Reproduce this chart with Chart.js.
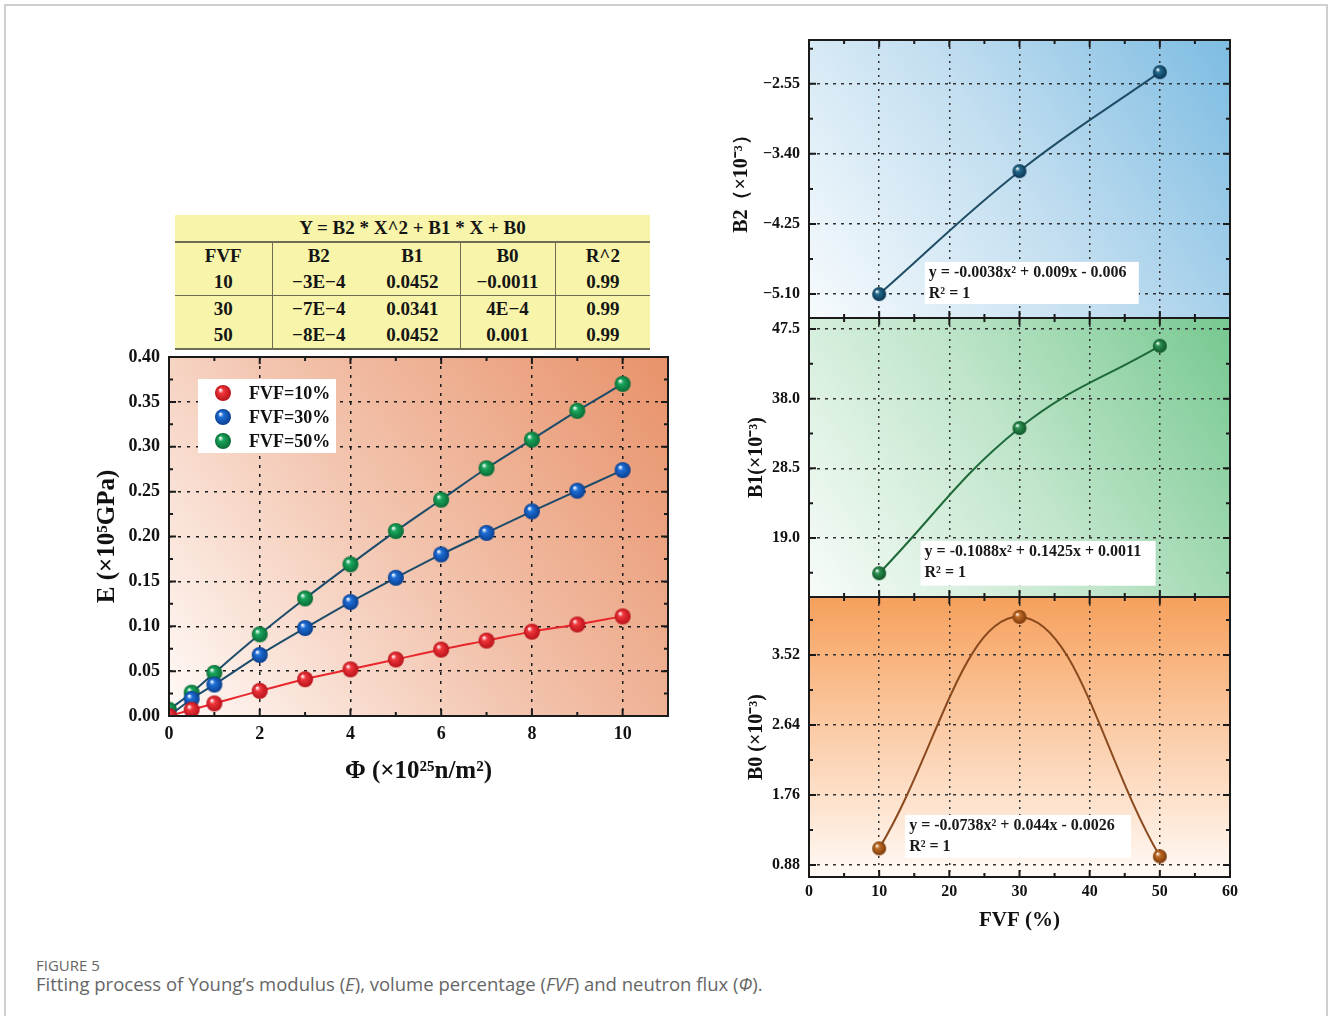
<!DOCTYPE html>
<html>
<head>
<meta charset="utf-8">
<script src="https://cdn.jsdelivr.net/npm/chart.js@4.4.1/dist/chart.umd.min.js"></script>
<style>
  body { margin: 0; width: 1328px; height: 1016px; background: #fff; overflow: hidden; position: relative; }
  .frame { position: absolute; left: 4px; top: 4px; width: 1320px; height: 1040px; border: 2px solid #cfcfcf; }
  .box { position: absolute; }
  #coef { position: absolute; left: 175px; top: 215px; width: 475px; border-collapse: collapse; table-layout: fixed;
          background: #f8f5aa; font: bold 19px "Liberation Serif", serif; color: #151515; }
  #coef td, #coef th { text-align: center; padding: 0; height: 26px; font-weight: bold; }
  #coef th { height: 26px; border-bottom: 2px solid #6e6c55; }
  #coef td.vl { border-right: 1.5px solid #6e6c55; }
  #coef tr.sep td { border-bottom: 1.5px solid #6e6c55; }
  #coef tr.last td { border-bottom: 2px solid #6e6c55; height: 26px; }
  .fig { position: absolute; left: 36px; top: 955px; font: 15px "Open Sans", sans-serif; color: #666; }
  .cap { position: absolute; left: 36px; top: 971px; font: 18.5px "Open Sans", sans-serif; color: #666; }
</style>
</head>
<body>
<div class="frame"></div>
<table id="coef"></table>
<div class="box" style="left:80px;top:340px;width:610px;height:460px"><canvas id="eChart"></canvas></div>
<div class="box" style="left:725px;top:30px;width:525px;height:288px"><canvas id="b2Chart"></canvas></div>
<div class="box" style="left:725px;top:318px;width:525px;height:279px"><canvas id="b1Chart"></canvas></div>
<div class="box" style="left:725px;top:597px;width:525px;height:338px"><canvas id="b0Chart"></canvas></div>
<div class="fig">FIGURE 5</div>
<div class="cap">Fitting process of Young’s modulus (<i>E</i>), volume percentage (<i>FVF</i>) and neutron flux (<i>Φ</i>).</div>

<script>
// left chart: Young's modulus vs neutron flux
const phi = [0, 0.5, 1, 2, 3, 4, 5, 6, 7, 8, 9, 10];
const e10 = [0, 0.007, 0.014, 0.028, 0.041, 0.052, 0.063, 0.074, 0.084, 0.094, 0.102, 0.111];
const e30 = [0, 0.019, 0.035, 0.068, 0.098, 0.127, 0.154, 0.180, 0.204, 0.228, 0.251, 0.274];
const e50 = [0.007, 0.026, 0.048, 0.091, 0.131, 0.169, 0.206, 0.241, 0.276, 0.308, 0.340, 0.370];
const seriesLabels = ['FVF=10%', 'FVF=30%', 'FVF=50%'];
const phiTicks = [0, 2, 4, 6, 8, 10];
const eTicks = [0, 0.05, 0.10, 0.15, 0.20, 0.25, 0.30, 0.35, 0.40];

// right charts: fit coefficients vs FVF
const fvf = [10, 30, 50];
const b2 = [-5.10, -3.61, -2.41];
const b1 = [14.2, 34.0, 45.2];
const b0 = [1.09, 4.00, 0.99];
const fvfTicks = [0, 10, 20, 30, 40, 50, 60];
const b2Ticks = [-5.10, -4.25, -3.40, -2.55];
const b1Ticks = [19.0, 28.5, 38.0, 47.5];
const b0Ticks = [0.88, 1.76, 2.64, 3.52];
const b2Fit = ['y = -0.0038x² + 0.009x - 0.006', 'R² = 1'];
const b1Fit = ['y = -0.1088x² + 0.1425x + 0.0011', 'R² = 1'];
const b0Fit = ['y = -0.0738x² + 0.044x - 0.0026', 'R² = 1'];

// coefficient table
const tableTitle = 'Y = B2 * X^2 + B1 * X + B0';
const tableHead = ['FVF', 'B2', 'B1', 'B0', 'R^2'];
const tableFvf = ['10', '30', '50'];
const tableB2 = ['−3E−4', '−7E−4', '−8E−4'];
const tableB1 = ['0.0452', '0.0341', '0.0452'];
const tableB0 = ['−0.0011', '4E−4', '0.001'];
const tableR2 = ['0.99', '0.99', '0.99'];

const SERIF = '"Liberation Serif", "Times New Roman", serif';
Chart.defaults.font.family = SERIF;
Chart.defaults.font.weight = 'bold';
Chart.defaults.color = '#111';

// build table
const tbl = document.getElementById('coef');
const widths = [97, 93, 95, 95, 95];
let html = '<colgroup>' + widths.map(w => `<col style="width:${w}px">`).join('') + '</colgroup>';
html += `<tr><th colspan="5">${tableTitle}</th></tr>`;
const rowCells = r => r.map((c, i) => `<td class="${[0, 2, 3].includes(i) ? 'vl' : ''}">${c}</td>`).join('');
html += `<tr>${rowCells(tableHead)}</tr>`;
tableFvf.forEach((f, i) => {
  const cls = i === 0 ? 'sep' : (i === tableFvf.length - 1 ? 'last' : '');
  html += `<tr class="${cls}">${rowCells([f, tableB2[i], tableB1[i], tableB0[i], tableR2[i]])}</tr>`;
});
tbl.innerHTML = html;

// glossy ball marker
function sphere(color, dark, r) {
  const c = document.createElement('canvas');
  c.width = c.height = r * 2 + 2;
  const g = c.getContext('2d');
  const m = r + 1;
  const grad = g.createRadialGradient(m - r * 0.35, m - r * 0.4, r * 0.05, m, m, r);
  grad.addColorStop(0, '#ffffff');
  grad.addColorStop(0.3, color);
  grad.addColorStop(1, dark);
  g.fillStyle = grad;
  g.beginPath();
  g.arc(m, m, r, 0, Math.PI * 2);
  g.fill();
  return c;
}

// no extra room for edge labels, so panels line up exactly
const noPadY = s => { s.paddingTop = 0; s.paddingBottom = 0; };
const noPadX = s => { s.paddingLeft = 0; s.paddingRight = 0; };

const frame = {
  id: 'frame',
  beforeDraw(chart, args, o) {
    const { ctx, chartArea: a } = chart;
    const g = o.vertical
      ? ctx.createLinearGradient(0, a.top, 0, a.bottom)
      : ctx.createLinearGradient(a.left, a.bottom, a.right, a.top);
    o.stops.forEach(s => g.addColorStop(s[0], s[1]));
    ctx.save();
    ctx.fillStyle = g;
    ctx.fillRect(a.left, a.top, a.width, a.height);
    ctx.restore();
  },
  beforeDatasetsDraw(chart, args, o) {
    const { ctx, chartArea: a, scales: { x, y } } = chart;
    ctx.save();
    if (o.note) {
      const n = o.note;
      const x0 = x.getPixelForValue(n.x0), x1 = x.getPixelForValue(n.x1);
      const y0 = y.getPixelForValue(n.y0), y1 = y.getPixelForValue(n.y1);
      ctx.fillStyle = '#fff';
      ctx.fillRect(x0, y0, x1 - x0, y1 - y0);
      ctx.fillStyle = '#1a1a1a';
      ctx.font = 'bold 16px ' + SERIF;
      ctx.textBaseline = 'middle';
      n.lines.forEach((t, i) => ctx.fillText(t, x0 + 4, y0 + 11 + i * 21));
    }
    if (o.legend) {
      const bx = a.left + 29, by = a.top + 22;
      ctx.fillStyle = '#fff';
      ctx.fillRect(bx, by, 138, 74);
      ctx.font = 'bold 18px ' + SERIF;
      ctx.textBaseline = 'middle';
      chart.data.datasets.forEach((ds, i) => {
        const img = ds.pointStyle;
        const cy = by + 14 + i * 24;
        ctx.drawImage(img, bx + 25 - img.width / 2, cy - img.height / 2);
        ctx.fillStyle = '#111';
        ctx.fillText(ds.label, bx + 51, cy + 1);
      });
    }
    ctx.restore();
  },
  afterDraw(chart, args, o) {
    const { ctx, chartArea: a, scales: { x, y } } = chart;
    ctx.save();
    ctx.strokeStyle = '#1a1a1a';
    ctx.lineWidth = 2;
    ctx.beginPath();
    for (let i = 0, v = o.xStart; v <= x.max + 1e-9; i++, v += o.xStep) {
      const px = x.getPixelForValue(v);
      const len = i % 2 === o.xMajorAt ? 7 : 4;
      ctx.moveTo(px, a.top); ctx.lineTo(px, a.top + len);
      ctx.moveTo(px, a.bottom); ctx.lineTo(px, a.bottom - len);
    }
    for (let i = 0, v = o.yStart; v <= y.max + 1e-9; i++, v += o.yStep) {
      if (v < y.min) continue;
      const py = y.getPixelForValue(v);
      const len = i % 2 === o.yMajorAt ? 7 : 4;
      ctx.moveTo(a.left, py); ctx.lineTo(a.left + len, py);
      ctx.moveTo(a.right, py); ctx.lineTo(a.right - len, py);
    }
    ctx.stroke();
    ctx.strokeRect(a.left, a.top, a.width, a.height);
    ctx.restore();
  }
};

// ---- left chart ----
const eSeries = [
  { label: seriesLabels[0], data: e10, ball: sphere('#f0363c', '#b8121a', 8), line: '#e8262c' },
  { label: seriesLabels[1], data: e30, ball: sphere('#1e6fd8', '#0b3f8e', 8), line: '#1d4c6a' },
  { label: seriesLabels[2], data: e50, ball: sphere('#1aa65c', '#0a6b36', 8), line: '#1d4c6a' }
];

new Chart(document.getElementById('eChart'), {
  type: 'scatter',
  data: {
    datasets: eSeries.map(s => ({
      label: s.label,
      data: phi.map((p, i) => ({ x: p, y: s.data[i] })),
      showLine: true,
      borderColor: s.line,
      borderWidth: 2,
      cubicInterpolationMode: 'monotone',
      pointStyle: s.ball,
      pointRadius: 8
    }))
  },
  options: {
    animation: false,
    responsive: true,
    maintainAspectRatio: false,
    layout: { autoPadding: false, padding: { top: 17, right: 22 } },
    plugins: {
      legend: { display: false },
      tooltip: { enabled: false },
      frame: {
        stops: [[0, '#fffaf7'], [0.45, '#f3c6b1'], [1, '#e8926a']],
        legend: true,
        xStart: 0, xStep: 1, xMajorAt: 0,
        yStart: 0, yStep: 0.025, yMajorAt: 0
      }
    },
    scales: {
      x: {
        type: 'linear', min: 0, max: 11,
        afterBuildTicks: s => { s.ticks = phiTicks.map(v => ({ value: v })); },
        afterFit: s => { s.height = 84; noPadX(s); },
        ticks: { font: { size: 18 }, padding: 8 },
        grid: { color: '#1a1a1a', lineWidth: 1.5, drawTicks: false },
        border: { display: false, dash: [3, 6] },
        title: { display: true, text: 'Φ (×10²⁵n/m²)', font: { size: 25 }, padding: { bottom: 13 } }
      },
      y: {
        min: 0, max: 0.40,
        afterBuildTicks: s => { s.ticks = eTicks.map(v => ({ value: v })); },
        afterFit: s => { s.width = 89; noPadY(s); },
        ticks: { font: { size: 18 }, padding: 9, callback: v => v.toFixed(2) },
        grid: { color: '#1a1a1a', lineWidth: 1.5, drawTicks: false },
        border: { display: false, dash: [3, 6] },
        title: { display: true, text: 'E (×10⁵GPa)', font: { size: 25 }, padding: { top: 13 } }
      }
    }
  },
  plugins: [frame]
});

// ---- right charts ----
function panel(id, o) {
  const step = o.ticks[1] - o.ticks[0];
  return new Chart(document.getElementById(id), {
    type: 'scatter',
    data: {
      datasets: [{
        data: fvf.map((f, i) => ({ x: f, y: o.values[i] })),
        showLine: true,
        borderColor: o.line,
        borderWidth: 2,
        tension: 0.4,
        pointStyle: sphere(o.ball[0], o.ball[1], 7),
        pointRadius: 7
      }]
    },
    options: {
      animation: false,
      responsive: true,
      maintainAspectRatio: false,
      layout: { autoPadding: false, padding: { top: o.padTop, right: 20 } },
      plugins: {
        legend: { display: false },
        tooltip: { enabled: false },
        frame: {
          stops: o.stops,
          vertical: o.vertical,
          note: o.note,
          xStart: 0, xStep: 5, xMajorAt: 0,
          yStart: o.ticks[0] - step / 2, yStep: step / 2, yMajorAt: 1
        }
      },
      scales: {
        x: {
          type: 'linear', min: 0, max: 60,
          afterBuildTicks: s => { s.ticks = fvfTicks.map(v => ({ value: v })); },
          afterFit: s => { s.height = o.showX ? 58 : 0; noPadX(s); },
          ticks: { display: o.showX, font: { size: 16 }, padding: 5 },
          grid: { color: '#333', lineWidth: 1.5, drawTicks: false },
          border: { display: false, dash: [2, 5] },
          title: { display: o.showX, text: 'FVF (%)', font: { size: 21 }, padding: { bottom: 2 } }
        },
        y: {
          min: o.min, max: o.max,
          afterBuildTicks: s => { s.ticks = o.ticks.map(v => ({ value: v })); },
          afterFit: s => { s.width = 84; noPadY(s); },
          ticks: { font: { size: 16 }, padding: 9, callback: v => v.toFixed(o.dec).replace('-', '−') },
          grid: { color: '#333', lineWidth: 1.5, drawTicks: false },
          border: { display: false, dash: [3, 5] },
          title: { display: true, text: o.title, font: { size: 20 }, padding: { top: o.titlePad } }
        }
      }
    },
    plugins: [frame]
  });
}

panel('b2Chart', {
  values: b2, ticks: b2Ticks, min: -5.39, max: -2.02, dec: 2,
  title: 'B2（×10⁻³）', titlePad: 5, padTop: 10, showX: false,
  line: '#1f4d66', ball: ['#21698d', '#0c3550'],
  stops: [[0, '#f7fbfd'], [0.5, '#c2def0'], [1, '#7dbce2']],
  note: { x0: 16.5, x1: 47, y0: -4.71, y1: -5.22, lines: b2Fit }
});

panel('b1Chart', {
  values: b1, ticks: b1Ticks, min: 10.96, max: 49.0, dec: 1,
  title: 'B1(×10⁻³)', titlePad: 20, padTop: 0, showX: false,
  line: '#1f6a3a', ball: ['#2c9150', '#0f5428'],
  stops: [[0, '#f8fcf9'], [0.5, '#bfe5ca'], [1, '#76c890']],
  note: { x0: 15.9, x1: 49.4, y0: 18.6, y1: 12.5, lines: b1Fit }
});

panel('b0Chart', {
  values: b0, ticks: b0Ticks, min: 0.73, max: 4.25, dec: 2,
  title: 'B0 (×10⁻³)', titlePad: 20, padTop: 0, showX: true,
  line: '#8b4a1e', ball: ['#c06a22', '#7a3a0c'], vertical: true,
  stops: [[0, '#f6a05c'], [0.45, '#fbc9a2'], [1, '#fffaf6']],
  note: { x0: 13.7, x1: 45.9, y0: 1.51, y1: 0.97, lines: b0Fit }
});
</script>
</body>
</html>
